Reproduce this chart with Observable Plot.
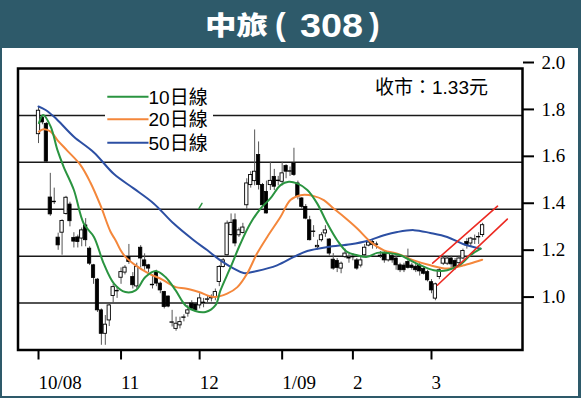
<!DOCTYPE html>
<html><head><meta charset="utf-8">
<script src="https://cdn.jsdelivr.net/npm/d3@7"></script>
<script src="https://cdn.jsdelivr.net/npm/@observablehq/plot@0.6"></script>
<style>
html,body{margin:0;padding:0;}
body{width:581px;height:398px;background:#2e5a6a;overflow:hidden;}
#title{height:48px;}
#title svg{display:block;}
#chart{margin-left:2px;width:576px;height:348px;background:#fff;}
#chart svg{display:block;}
</style></head>
<body><div id="title"></div><div id="chart"></div>
<script>
// daily candles (trading-day index = array position)
const openP = [1.72,1.79,1.764,1.45,1.43,1.279,1.30,1.38,1.42,1.278,
1.28,1.275,1.331,1.232,1.161,1.10,0.969,0.869,0.926,1.03,
1.05,1.108,1.13,1.196,1.111,1.071,1.236,1.182,1.161,1.076,
1.132,1.083,1.047,1.028,0.916,0.89,0.905,0.937,0.955,0.998,
0.994,0.99,1.00,1.014,1.02,1.026,1.09,1.154,1.204,1.29,
1.353,1.289,1.299,1.417,1.503,1.52,1.631,1.503,1.474,1.503,
1.538,1.52,1.517,1.584,1.56,1.595,1.51,1.446,1.41,1.353,
1.303,1.238,1.268,1.297,1.271,1.185,1.18,1.147,1.196,1.19,
1.195,1.182,1.16,1.204,1.245,1.26,1.248,1.20,1.211,1.182,
1.20,1.19,1.161,1.16,1.175,1.16,1.155,1.16,1.145,1.132,
1.089,1.019,1.111,1.168,1.168,1.19,1.18,1.17,1.19,1.26,
1.254,1.27,1.28,1.29];
const closeP = [1.82,1.77,1.603,1.378,1.432,1.246,1.35,1.449,1.349,1.262,
1.26,1.31,1.268,1.168,1.107,0.969,0.869,0.908,0.99,1.068,
1.052,1.132,1.151,1.175,1.076,1.154,1.19,1.157,1.147,1.078,
1.083,1.054,0.983,0.985,0.918,0.912,0.919,0.939,0.969,0.976,
0.969,1.02,1.002,1.016,1.022,1.047,1.154,1.182,1.339,1.342,
1.254,1.31,1.322,1.51,1.546,1.56,1.503,1.417,1.382,1.521,
1.496,1.522,1.553,1.56,1.562,1.546,1.453,1.41,1.36,1.268,
1.305,1.244,1.289,1.31,1.211,1.147,1.15,1.168,1.211,1.192,
1.197,1.147,1.182,1.236,1.258,1.248,1.25,1.202,1.182,1.211,
1.182,1.161,1.14,1.14,1.15,1.15,1.14,1.135,1.125,1.097,
1.054,1.08,1.14,1.19,1.19,1.165,1.15,1.19,1.222,1.246,
1.275,1.272,1.282,1.332];
const highP = [1.836,1.80,1.77,1.553,1.49,1.298,1.355,1.455,1.43,1.30,
1.29,1.32,1.36,1.24,1.165,1.105,0.975,0.947,1.00,1.08,
1.07,1.15,1.16,1.25,1.13,1.17,1.245,1.21,1.165,1.12,
1.14,1.09,1.05,1.03,0.969,0.94,0.94,0.95,0.99,1.01,
1.00,1.04,1.02,1.03,1.035,1.06,1.16,1.19,1.35,1.38,
1.38,1.32,1.34,1.53,1.56,1.738,1.687,1.51,1.52,1.60,
1.57,1.54,1.60,1.59,1.58,1.66,1.52,1.45,1.42,1.37,
1.33,1.268,1.30,1.33,1.275,1.211,1.19,1.175,1.23,1.21,
1.21,1.19,1.20,1.25,1.27,1.27,1.26,1.22,1.22,1.22,
1.21,1.20,1.17,1.17,1.23,1.17,1.165,1.17,1.155,1.14,
1.10,1.085,1.15,1.20,1.20,1.20,1.19,1.20,1.23,1.275,
1.28,1.29,1.30,1.34];
const lowP = [1.68,1.76,1.60,1.37,1.42,1.225,1.204,1.375,1.325,1.235,
1.235,1.24,1.24,1.16,1.08,0.96,0.82,0.82,0.90,1.00,
1.02,1.08,1.12,1.165,1.06,1.06,1.15,1.14,1.13,1.06,
1.07,1.04,0.975,0.98,0.898,0.88,0.89,0.92,0.94,0.97,
0.96,0.975,0.98,1.00,1.005,1.01,1.07,1.15,1.20,1.285,
1.24,1.28,1.295,1.40,1.49,1.50,1.482,1.41,1.38,1.48,
1.48,1.50,1.50,1.53,1.54,1.54,1.44,1.40,1.355,1.265,
1.28,1.226,1.26,1.28,1.20,1.14,1.13,1.125,1.19,1.17,
1.18,1.14,1.15,1.20,1.24,1.23,1.23,1.19,1.17,1.175,
1.17,1.14,1.13,1.13,1.145,1.14,1.13,1.115,1.12,1.09,
1.04,1.01,1.10,1.16,1.16,1.15,1.14,1.16,1.185,1.23,
1.24,1.25,1.25,1.28];

// moving averages (day index, value)
const ma10Day = [0.1,1.2,3.1,4.8,6.4,9.0,11.5,14.1,16.6,19.2,22.1,24.7,27.2,29.8,32.3,34.9,37.4,39.9,42.5,45.0,46.3,48.9,51.4,53.9,56.5,59.0,61.6,63.7,65.8,68.4,70.9,73.5,76.0,78.5,81.1,83.6,86.2,88.7,92.1,93.8,97.2,100.6,104.0,107.4,109.9,112.5];
const ma10 = [1.767,1.802,1.752,1.653,1.581,1.482,1.339,1.282,1.168,1.083,1.047,1.054,1.111,1.137,1.111,1.054,0.990,0.966,0.962,0.990,1.054,1.154,1.254,1.339,1.403,1.446,1.503,1.517,1.510,1.482,1.425,1.339,1.268,1.218,1.204,1.197,1.214,1.214,1.204,1.190,1.161,1.140,1.140,1.165,1.204,1.232];
const ma20Day = [0.1,1.3,3.1,4.8,7.3,10.7,13.2,15.8,18.3,19.6,20.9,22.1,24.7,28.1,31.5,34.9,37.4,40.8,44.6,48.0,50.6,53.1,55.6,58.2,61.6,64.1,66.7,70.1,72.6,75.1,77.7,81.1,84.5,87.9,91.3,95.5,99.7,104.0,108.2,112.9];
const ma20 = [1.731,1.741,1.731,1.695,1.650,1.588,1.514,1.415,1.305,1.268,1.225,1.197,1.161,1.126,1.100,1.068,1.062,1.047,1.026,1.040,1.068,1.126,1.211,1.282,1.368,1.439,1.460,1.456,1.439,1.403,1.368,1.318,1.261,1.225,1.211,1.182,1.161,1.147,1.161,1.185];
const ma50Day = [0,1.8,3.9,5.2,9.0,14.1,19.2,24.2,29.3,34.4,39.5,42.9,46.3,49.7,52.2,55.6,60.7,65.0,68.4,73.5,79.4,83.6,87.9,91.3,95.5,99.7,104.0,108.2,112.5];
const ma50 = [1.838,1.823,1.795,1.774,1.709,1.642,1.550,1.489,1.425,1.339,1.268,1.226,1.182,1.147,1.128,1.137,1.161,1.197,1.222,1.239,1.251,1.265,1.289,1.303,1.311,1.299,1.282,1.251,1.232];
const greenBitDay = [40.8,41.6];
const greenBit = [1.403,1.425];
// trend lines
const trendUpDay = [100.3,116.8], trendUp = [1.170,1.413];
const trendLoDay = [101.5,119.3], trendLo = [1.076,1.358];

// axes and texts
const monthTicks = [0,21,41,62,80,100];
const monthLabels = ["10/08","11","12","1/09","2","3"];
const yTicks = [1.0,1.2,1.4,1.6,1.8,2.0];
const gridLines = [1.0,1.2,1.4,1.6,1.8];
const legendLabels = ["10日線","20日線","50日線"];
const closeLabel = "收市：1.33元";
const titleName = "中旅", titleCode = "308";
const colors = {ma10:"#2a9440", ma20:"#f4873b", ma50:"#2c4fa3", trend:"#ec2a22"};

// title bar
const ts = d3.select("#title").append("svg").attr("width",581).attr("height",48)
  .attr("fill","white").attr("font-weight","bold");
ts.append("text").attr("x",205).attr("y",34.5).attr("font-family","'Noto Sans CJK TC','Noto Sans CJK SC',sans-serif")
  .attr("font-size",26).attr("font-weight",900).attr("textLength",63).attr("lengthAdjust","spacingAndGlyphs").text(titleName);
const latin = "'Liberation Sans',Arial,sans-serif";
ts.append("text").attr("x",275).attr("y",35).attr("font-family",latin).attr("font-size",32).text("(");
ts.append("text").attr("x",300).attr("y",36.5).attr("font-family",latin).attr("font-size",33)
  .attr("textLength",63).attr("lengthAdjust","spacingAndGlyphs").text(titleCode);
ts.append("text").attr("x",369).attr("y",35).attr("font-family",latin).attr("font-size",32).text(")");

const candles = openP.map((o,i)=>({day:i, open:o, high:highP[i], low:lowP[i], close:closeP[i]}));
const up = candles.filter(d=>d.close>=d.open);
const down = candles.filter(d=>d.close<d.open);
const pts = (days, vals) => days.map((d,i)=>({day:d, v:vals[i]}));
const serif = "'Liberation Serif','Times New Roman',serif";

const chart = Plot.plot({
  width:576, height:348,
  marginLeft:15.5, marginRight:56, marginTop:20, marginBottom:46.5,
  x:{domain:[-5.22,123.16]},
  y:{domain:[0.8,2.0]},
  style:{fontFamily:serif, fontSize:"19px", color:"black", background:"white", overflow:"visible"},
  marks:[
    Plot.ruleY(gridLines, {stroke:"#1a1a1a", strokeWidth:1.5}),
    Plot.ruleX(candles, {x:"day", y1:"low", y2:"high", stroke:"#555", strokeWidth:1}),
    Plot.rect(down, {x1:d=>d.day-0.42, x2:d=>d.day+0.42, y1:"open", y2:"close", fill:"black", stroke:"black", strokeWidth:0.8}),
    Plot.rect(up, {x1:d=>d.day-0.42, x2:d=>d.day+0.42, y1:"open", y2:"close", fill:"white", stroke:"black", strokeWidth:0.9}),
    Plot.line(pts(ma50Day, ma50), {x:"day", y:"v", stroke:colors.ma50, strokeWidth:2, curve:"catmull-rom"}),
    Plot.line(pts(ma20Day, ma20), {x:"day", y:"v", stroke:colors.ma20, strokeWidth:2, curve:"catmull-rom"}),
    Plot.line(pts(ma10Day, ma10), {x:"day", y:"v", stroke:colors.ma10, strokeWidth:2, curve:"catmull-rom"}),
    Plot.line(pts(greenBitDay, greenBit), {x:"day", y:"v", stroke:colors.ma10, strokeWidth:1.5}),
    Plot.line(pts(trendUpDay, trendUp), {x:"day", y:"v", stroke:colors.trend, strokeWidth:1.6}),
    Plot.line(pts(trendLoDay, trendLo), {x:"day", y:"v", stroke:colors.trend, strokeWidth:1.6}),
    Plot.frame({stroke:"black", strokeWidth:2.5}),
    Plot.axisY({anchor:"right", ticks:yTicks, tickFormat:d3.format(".1f"), tickSize:11, tickPadding:8, strokeWidth:2, dy:-6, label:null, fontSize:19, fontFamily:serif}),
    Plot.axisX({ticks:monthTicks, tickFormat:d=>monthLabels[monthTicks.indexOf(d)], tickSize:10, tickPadding:15, textAnchor:"start", strokeWidth:2, label:null, fontSize:19, fontFamily:serif})
  ]
});
document.getElementById("chart").appendChild(chart);

// make sure axis labels use the serif face
const svg = d3.select(chart);
svg.selectAll("g[aria-label*='axis'] text").attr("font-family", serif);

// legend and close-price note
const g = svg.append("g").attr("font-family","'Liberation Sans','Noto Sans CJK TC',sans-serif")
  .attr("font-size",19).attr("text-anchor","start");
g.append("rect").attr("x",103).attr("y",38).attr("width",108).attr("height",68).attr("fill","white");
const legColors = [colors.ma10, colors.ma20, colors.ma50];
const legY = [48.7, 71.3, 94.7];
legendLabels.forEach((t,i)=>{
  g.append("line").attr("x1",105.3).attr("x2",146.5).attr("y1",legY[i]).attr("y2",legY[i]).attr("stroke",legColors[i]).attr("stroke-width",2);
  g.append("text").attr("x",146.5).attr("y",legY[i]).attr("dy","0.36em").attr("fill","black").text(t);
});
g.append("text").attr("x",373).attr("y",39).attr("dy","0.36em").attr("fill","black").text(closeLabel);
</script></body></html>
